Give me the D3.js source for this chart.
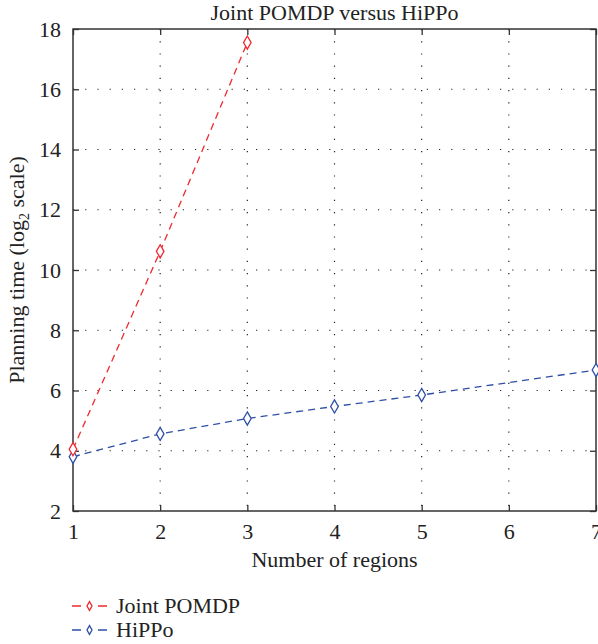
<!DOCTYPE html>
<html>
<head>
<meta charset="utf-8">
<script src="https://cdn.jsdelivr.net/npm/d3@7"></script>
<style>
  body { margin: 0; background: #fff; }
  text { font-family: "Liberation Serif", "DejaVu Serif", serif; fill: #222; }
</style>
</head>
<body>
<div id="chart"></div>
<script>
// data
var regions = [1, 2, 3, 4, 5, 6, 7];
var yTicks = [2, 4, 6, 8, 10, 12, 14, 16, 18];
var jointX = [1, 2, 3];
var jointY = [4.05, 10.62, 17.55];
var hippoX = [1, 2, 3, 4, 5, 7];
var hippoY = [3.80, 4.56, 5.07, 5.47, 5.85, 6.68];

var margin = {top: 29, right: 2, bottom: 133, left: 73},
    width = 598 - margin.left - margin.right,
    height = 644 - margin.top - margin.bottom;

var svg = d3.select("#chart").append("svg")
    .attr("width", 598)
    .attr("height", 644);

var g = svg.append("g")
    .attr("transform", "translate(" + margin.left + "," + margin.top + ")");

var x = d3.scaleLinear().domain([1, 7]).range([0, width]);
var y = d3.scaleLinear().domain([2, 18]).range([height, 0]);

// dotted grid
g.selectAll(".vgrid").data(regions.slice(1, -1)).enter().append("line")
    .attr("x1", function(d) { return x(d); })
    .attr("x2", function(d) { return x(d); })
    .attr("y1", 0).attr("y2", height)
    .style("stroke", "#222").style("stroke-width", 1.2)
    .style("stroke-dasharray", "1.2,11");
g.selectAll(".hgrid").data(yTicks.slice(1, -1)).enter().append("line")
    .attr("y1", function(d) { return y(d); })
    .attr("y2", function(d) { return y(d); })
    .attr("x1", 0).attr("x2", width)
    .style("stroke", "#222").style("stroke-width", 1.2)
    .style("stroke-dasharray", "1.2,11");

// axes with inward ticks
function styleAxis(sel) {
  sel.select(".domain").remove();
  sel.selectAll(".tick line").style("stroke", "#333").style("stroke-width", 1.3);
  sel.selectAll(".tick text").style("font-size", "22px")
     .style("font-family", "'Liberation Serif', serif").style("fill", "#222");
}
g.append("g")
    .attr("transform", "translate(0," + height + ")")
    .call(d3.axisBottom(x).tickValues(regions).tickFormat(d3.format("d"))
      .tickSizeInner(-6).tickSizeOuter(0).tickPadding(12))
    .call(styleAxis);
g.append("g")
    .call(d3.axisTop(x).tickValues(regions).tickFormat("")
      .tickSizeInner(-6).tickSizeOuter(0))
    .call(styleAxis);
g.append("g")
    .call(d3.axisLeft(y).tickValues(yTicks).tickFormat(d3.format("d"))
      .tickSizeInner(-6).tickSizeOuter(0).tickPadding(12))
    .call(styleAxis);
g.append("g")
    .attr("transform", "translate(" + width + ",0)")
    .call(d3.axisRight(y).tickValues(yTicks).tickFormat("")
      .tickSizeInner(-6).tickSizeOuter(0))
    .call(styleAxis);

// frame
g.append("rect")
    .attr("width", width).attr("height", height)
    .style("fill", "none").style("stroke", "#333").style("stroke-width", 1.5);

// series
var diamond = d3.symbol().type(d3.symbolDiamond).size(50);
function drawSeries(xs, ys, color) {
  var pts = xs.map(function(d, i) { return [d, ys[i]]; });
  var line = d3.line()
      .x(function(d) { return x(d[0]); })
      .y(function(d) { return y(d[1]); });
  g.append("path")
      .datum(pts)
      .attr("d", line)
      .style("fill", "none").style("stroke", color)
      .style("stroke-width", 1.3).style("stroke-dasharray", "7,5");
  g.selectAll(null).data(pts).enter().append("path")
      .attr("d", diamond)
      .attr("transform", function(d) { return "translate(" + x(d[0]) + "," + y(d[1]) + ")"; })
      .style("fill", "#fff").style("stroke", color).style("stroke-width", 1.3);
}
drawSeries(hippoX, hippoY, "#2e4fa6");
drawSeries(jointX, jointY, "#ee2a2e");

// title and labels
svg.append("text")
    .attr("x", margin.left + width / 2).attr("y", 20)
    .attr("text-anchor", "middle")
    .style("font-size", "22px")
    .text("Joint POMDP versus HiPPo");

svg.append("text")
    .attr("x", margin.left + width / 2).attr("y", 567)
    .attr("text-anchor", "middle")
    .style("font-size", "22px")
    .text("Number of regions");

var yl = svg.append("text")
    .attr("transform", "translate(24," + (margin.top + height / 2) + ") rotate(-90)")
    .attr("text-anchor", "middle")
    .style("font-size", "22px");
yl.append("tspan").text("Planning time (log");
yl.append("tspan").attr("dy", 5).style("font-size", "14px").text("2");
yl.append("tspan").attr("dy", -5).text(" scale)");

// legend
var legend = [["Joint POMDP", "#ee2a2e"], ["HiPPo", "#2e4fa6"]];
var small = d3.symbol().type(d3.symbolDiamond).size(22);
legend.forEach(function(l, i) {
  var ly = 606 + i * 24;
  svg.append("line")
      .attr("x1", 72).attr("x2", 107).attr("y1", ly).attr("y2", ly)
      .style("stroke", l[1]).style("stroke-width", 1.3)
      .style("stroke-dasharray", "9,17");
  svg.append("path")
      .attr("d", small)
      .attr("transform", "translate(89.5," + ly + ")")
      .style("fill", "#fff").style("stroke", l[1]).style("stroke-width", 1.3);
  svg.append("text")
      .attr("x", 116).attr("y", ly + 7)
      .style("font-size", "22px")
      .text(l[0]);
});
</script>
</body>
</html>
